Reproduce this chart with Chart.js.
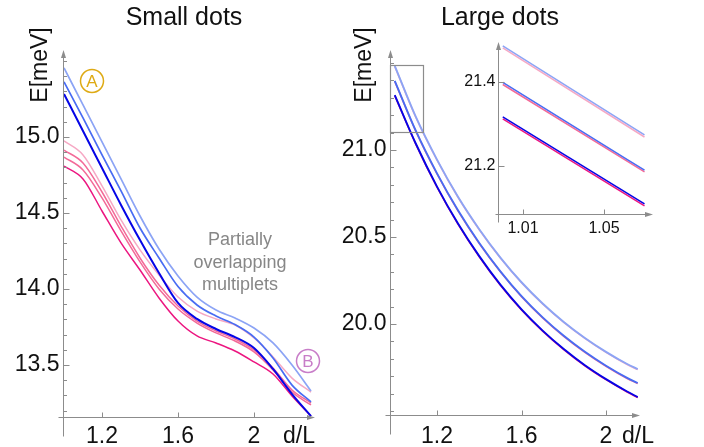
<!DOCTYPE html>
<html>
<head>
<meta charset="utf-8">
<script src="https://cdn.jsdelivr.net/npm/chart.js@4.4.1/dist/chart.umd.min.js"></script>
<style>
  html, body { margin: 0; padding: 0; background: #fff; }
  #wrap { position: relative; width: 704px; height: 447px; overflow: hidden; }
  canvas { position: absolute; left: 0; top: 0; }
</style>
</head>
<body>
<div id="wrap">
  <canvas id="small" width="704" height="447"></canvas>
  <canvas id="large" width="704" height="447"></canvas>
  <canvas id="inset" width="704" height="447"></canvas>
</div>
<script>
// ---- data ----
const smallD = [1.0, 1.1, 1.2, 1.3, 1.4, 1.5, 1.6, 1.7, 1.8, 1.9, 2.0, 2.1, 2.2, 2.3];
const smallLightBlue = [15.454, 15.211, 14.967, 14.724, 14.480, 14.263, 14.086, 13.947, 13.862, 13.809, 13.743, 13.645, 13.500, 13.329];
const smallBlue      = [15.362, 15.125, 14.882, 14.645, 14.401, 14.204, 14.016, 13.895, 13.822, 13.766, 13.684, 13.546, 13.368, 13.257];
const smallDarkBlue  = [15.283, 15.039, 14.796, 14.553, 14.322, 14.105, 13.908, 13.803, 13.737, 13.684, 13.612, 13.474, 13.309, 13.164];
const smallLightPink = [14.974, 14.882, 14.678, 14.454, 14.257, 14.092, 13.947, 13.855, 13.803, 13.763, 13.678, 13.553, 13.414, 13.322];
const smallPinkA     = [14.914, 14.829, 14.638, 14.414, 14.204, 14.026, 13.888, 13.789, 13.724, 13.671, 13.599, 13.480, 13.336, 13.250];
const smallPinkB     = [14.868, 14.783, 14.599, 14.382, 14.178, 14.000, 13.868, 13.776, 13.711, 13.658, 13.586, 13.467, 13.322, 13.237];
const smallMagenta   = [14.809, 14.724, 14.513, 14.303, 14.125, 13.941, 13.789, 13.691, 13.645, 13.592, 13.520, 13.441, 13.296, 13.164];

const largeD = [1.0, 1.1, 1.2, 1.3, 1.4, 1.5, 1.6, 1.7, 1.8, 1.9, 2.0, 2.1, 2.15];
const largeLightBlue = [21.484, 21.190, 20.945, 20.730, 20.545, 20.382, 20.240, 20.118, 20.012, 19.920, 19.840, 19.770, 19.741];
const largeLightPink = [21.481, 21.187, 20.942, 20.727, 20.542, 20.379, 20.237, 20.115, 20.009, 19.917, 19.837, 19.767, 19.738];
const largeBlue      = [21.398, 21.110, 20.866, 20.652, 20.466, 20.303, 20.160, 20.038, 19.932, 19.840, 19.760, 19.690, 19.661];
const largePink      = [21.395, 21.107, 20.863, 20.649, 20.463, 20.300, 20.157, 20.035, 19.929, 19.837, 19.757, 19.687, 19.658];
const largeDarkBlue  = [21.316, 21.036, 20.790, 20.576, 20.390, 20.226, 20.084, 19.962, 19.856, 19.763, 19.683, 19.612, 19.580];
const largeMagenta   = [21.313, 21.033, 20.787, 20.573, 20.387, 20.223, 20.081, 19.959, 19.853, 19.760, 19.680, 19.609, 19.577];

const insetD = [1.0, 1.07];
const insetLightBlue = [21.486, 21.274];
const insetLightPink = [21.481, 21.269];
const insetBlue      = [21.399, 21.190];
const insetPink      = [21.394, 21.186];
const insetDarkBlue  = [21.317, 21.110];
const insetMagenta   = [21.312, 21.105];

// zoom window shown in the large panel: [xMin, xMax, yMin, yMax]
const zoomBox = [0.9775, 1.134, 21.103, 21.49];

const smallXTicks = [1.2, 1.6, 2];
const smallYTicks = [13.5, 14.0, 14.5, 15.0];
const largeXTicks = [1.2, 1.6, 2];
const largeYTicks = [20.0, 20.5, 21.0];
const insetXTicks = [1.01, 1.05];
const insetYTicks = [21.2, 21.4];

const COL = {
  lightBlue: 'rgb(140,164,245)',
  blue: 'rgb(72,108,243)',
  darkBlue: 'rgb(5,5,230)',
  lightPink: 'rgb(246,168,196)',
  pink: 'rgb(243,106,152)',
  magenta: 'rgb(236,22,128)'
};
const AXIS = '#8c8c8c';
const FONT = '"Liberation Sans", Arial, sans-serif';

function series( xs, ys, color, width ) {
  return {
    data: xs.map(( x, i ) => ({ x: x, y: ys[i] })),
    borderColor: color,
    borderWidth: width,
    pointRadius: 0,
    fill: false,
    cubicInterpolationMode: 'monotone'
  };
}

// mathematica-like axes: inward ticks, arrows, labels
const axesPlugin = {
  id: 'mmAxes',
  afterDraw( chart, args, o ) {
    const ctx = chart.ctx;
    const xs = chart.scales.x, ys = chart.scales.y;
    const X = v => xs.getPixelForValue(v), Y = v => ys.getPixelForValue(v);
    const left = Math.round(X(xs.min)) + 0.5;
    const bottom = Math.round(Y(ys.min)) + 0.5;
    const right = X(xs.max), top = Y(ys.max);
    ctx.save();
    ctx.strokeStyle = AXIS;
    ctx.fillStyle = AXIS;
    ctx.lineWidth = 1;
    ctx.beginPath();
    ctx.moveTo(left, bottom + o.below);
    ctx.lineTo(left, top + 4);
    ctx.moveTo(left - o.before, bottom);
    ctx.lineTo(right - 4, bottom);
    ctx.stroke();
    ctx.beginPath();
    ctx.moveTo(left, top);
    ctx.lineTo(left - 2.5, top + 8);
    ctx.lineTo(left + 2.5, top + 8);
    ctx.closePath();
    ctx.moveTo(right, bottom);
    ctx.lineTo(right - 8, bottom - 2.5);
    ctx.lineTo(right - 8, bottom + 2.5);
    ctx.closePath();
    ctx.fill();

    ctx.beginPath();
    if ( o.minorStep ) {
      for ( let k = Math.ceil(ys.min / o.minorStep - 1e-9); k * o.minorStep <= ys.max; k++ ) {
        const py = Math.round(Y(k * o.minorStep)) + 0.5;
        ctx.moveTo(left, py);
        ctx.lineTo(left + 3.5, py);
      }
    }
    o.yTicks.forEach(v => {
      const py = Math.round(Y(v)) + 0.5;
      ctx.moveTo(left, py);
      ctx.lineTo(left + 6, py);
    });
    o.xTicks.forEach(v => {
      const px = Math.round(X(v)) + 0.5;
      ctx.moveTo(px, bottom);
      ctx.lineTo(px, bottom - 5);
    });
    ctx.stroke();

    ctx.fillStyle = '#111';
    ctx.font = o.font;
    ctx.textAlign = 'right';
    ctx.textBaseline = 'middle';
    o.yTicks.forEach(v => ctx.fillText(v.toFixed(o.yDigits), left - o.yGap, Y(v)));
    ctx.textAlign = 'center';
    ctx.textBaseline = 'alphabetic';
    o.xTicks.forEach(v => ctx.fillText(String(v), X(v), o.xBase));
    if ( o.xLabel ) {
      ctx.textAlign = 'left';
      ctx.fillText(o.xLabel, o.xLabelX, o.xBase);
    }
    ctx.restore();
  }
};

function yTitle( ctx, text, cx, cy ) {
  ctx.save();
  ctx.translate(cx, cy);
  ctx.rotate(-Math.PI / 2);
  ctx.font = '23px ' + FONT;
  ctx.fillStyle = '#111';
  ctx.textAlign = 'center';
  ctx.textBaseline = 'middle';
  ctx.fillText(text, 0, 0);
  ctx.restore();
}

function circled( ctx, letter, cx, cy, color ) {
  ctx.save();
  ctx.strokeStyle = color;
  ctx.fillStyle = color;
  ctx.lineWidth = 1.5;
  ctx.beginPath();
  ctx.arc(cx, cy, 11.5, 0, Math.PI * 2);
  ctx.stroke();
  ctx.font = '17px ' + FONT;
  ctx.textAlign = 'center';
  ctx.textBaseline = 'middle';
  ctx.fillText(letter, cx, cy + 1);
  ctx.restore();
}

const smallNotes = {
  id: 'smallNotes',
  afterDraw( chart ) {
    const ctx = chart.ctx;
    ctx.save();
    ctx.fillStyle = '#111';
    ctx.font = '25px ' + FONT;
    ctx.textAlign = 'center';
    ctx.fillText('Small dots', 184, 25);
    ctx.fillStyle = 'rgb(135,135,135)';
    ctx.font = '18px ' + FONT;
    ctx.fillText('Partially', 240, 245);
    ctx.fillText('overlapping', 240, 268);
    ctx.fillText('multiplets', 240, 290);
    ctx.restore();
    yTitle(ctx, 'E[meV]', 41, 65);
    circled(ctx, 'A', 92, 81, 'rgb(222,170,20)');
    circled(ctx, 'B', 308, 361, 'rgb(200,125,200)');
  }
};

const largeNotes = {
  id: 'largeNotes',
  afterDraw( chart ) {
    const ctx = chart.ctx;
    const xs = chart.scales.x, ys = chart.scales.y;
    ctx.save();
    ctx.fillStyle = '#111';
    ctx.font = '25px ' + FONT;
    ctx.textAlign = 'center';
    ctx.fillText('Large dots', 500, 25);
    ctx.strokeStyle = '#8c8c8c';
    ctx.lineWidth = 1.2;
    const x0 = xs.getPixelForValue(zoomBox[0]), x1 = xs.getPixelForValue(zoomBox[1]);
    const y0 = ys.getPixelForValue(zoomBox[2]), y1 = ys.getPixelForValue(zoomBox[3]);
    ctx.strokeRect(Math.round(x0) + 0.5, Math.round(y1) + 0.5, Math.round(x1 - x0), Math.round(y0 - y1));
    ctx.restore();
    yTitle(ctx, 'E[meV]', 365, 65);
  }
};

function makeChart( id, datasets, xr, yr, pad, axes, extra ) {
  return new Chart(document.getElementById(id), {
    type: 'line',
    data: { datasets: datasets },
    options: {
      responsive: false,
      animation: false,
      events: [],
      layout: { padding: pad },
      scales: {
        x: { type: 'linear', min: xr[0], max: xr[1], display: false },
        y: { type: 'linear', min: yr[0], max: yr[1], display: false }
      },
      plugins: {
        legend: { display: false },
        tooltip: { enabled: false },
        mmAxes: axes
      }
    },
    plugins: [axesPlugin].concat(extra)
  });
}

makeChart('small', [
  series(smallD, smallLightBlue, COL.lightBlue, 1.7),
  series(smallD, smallBlue, COL.blue, 1.7),
  series(smallD, smallDarkBlue, COL.darkBlue, 2),
  series(smallD, smallLightPink, COL.lightPink, 1.5),
  series(smallD, smallPinkA, COL.pink, 1.5),
  series(smallD, smallPinkB, COL.pink, 1.5),
  series(smallD, smallMagenta, COL.magenta, 1.5)
], [0.9947, 2.321], [13.158, 15.572], { left: 63, right: 389, top: 50, bottom: 30 }, {
  xTicks: smallXTicks, yTicks: smallYTicks, yDigits: 1, minorStep: 0.1,
  font: '23px ' + FONT, yGap: 4, xBase: 443, xLabel: 'd/L', xLabelX: 283,
  below: 19, before: 5
}, [smallNotes]);

makeChart('large', [
  series(largeD, largeLightBlue, COL.lightBlue, 1.9),
  series(largeD, largeBlue, COL.blue, 1.9),
  series(largeD, largeDarkBlue, COL.darkBlue, 1.9),
  series(largeD, largeLightPink, COL.lightPink, 1.6),
  series(largeD, largePink, COL.pink, 1.6),
  series(largeD, largeMagenta, COL.magenta, 1.6)
], [0.9775, 2.1609], [19.477, 21.575], { left: 390, right: 64, top: 50, bottom: 32 }, {
  xTicks: largeXTicks, yTicks: largeYTicks, yDigits: 1, minorStep: 0.1,
  font: '23px ' + FONT, yGap: 4, xBase: 443, xLabel: 'd/L', xLabelX: 622,
  below: 19, before: 5
}, [largeNotes]);

makeChart('inset', [
  series(insetD, insetLightBlue, COL.lightBlue, 1.5),
  series(insetD, insetLightPink, COL.lightPink, 1.5),
  series(insetD, insetBlue, COL.blue, 1.5),
  series(insetD, insetPink, COL.pink, 1.5),
  series(insetD, insetDarkBlue, COL.darkBlue, 1.5),
  series(insetD, insetMagenta, COL.magenta, 1.5)
], [0.99765, 1.0742], [21.0857, 21.4952], { left: 498, right: 51, top: 42, bottom: 233 }, {
  xTicks: insetXTicks, yTicks: insetYTicks, yDigits: 1, minorStep: 0,
  font: '16px ' + FONT, yGap: 3, xBase: 233, xLabel: '', xLabelX: 0,
  below: 8, before: 3
}, []);
</script>
</body>
</html>
